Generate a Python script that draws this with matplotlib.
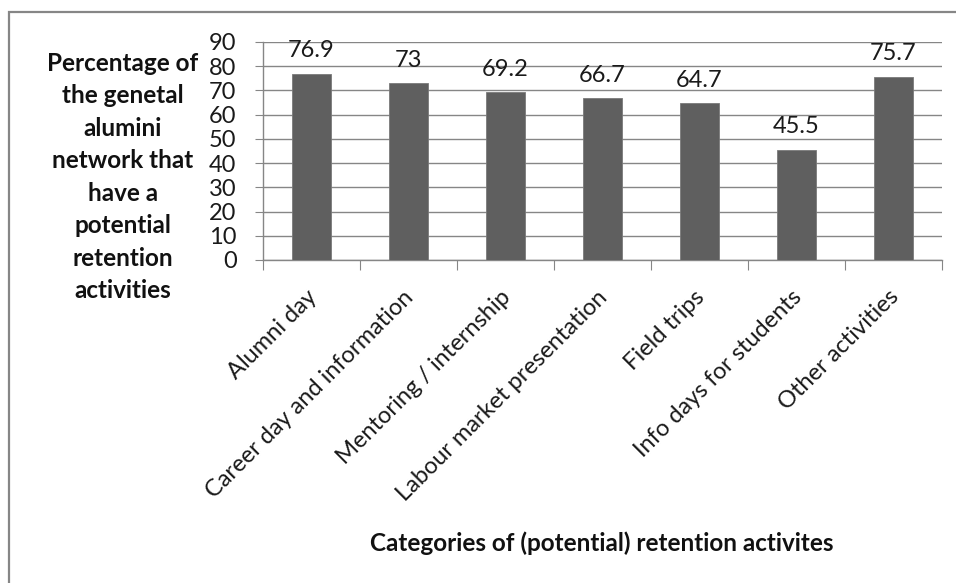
import matplotlib
matplotlib.use("Agg")
import matplotlib.pyplot as plt
from matplotlib.patches import Rectangle
from matplotlib.transforms import ScaledTranslation
import numpy as np

plt.rcParams["font.family"] = ["Lato", "DejaVu Sans"]

# données
categories = ["Alumni day", "Career day and information", "Mentoring / internship",
              "Labour market presentation", "Field trips", "Info days for students",
              "Other activities"]
values = [76.9, 73, 69.2, 66.7, 64.7, 45.5, 75.7]
value_labels = ["76.9", "73", "69.2", "66.7", "64.7", "45.5", "75.7"]
y_ticks = list(range(0, 91, 10))

ylabel = ("Percentage of\nthe genetal\nalumini\nnetwork that\nhave a\npotential\n"
          "retention\nactivities")
xlabel = "Categories of (potential) retention activites"

GRID = "#868686"
BAR = "#5f5f5f"
TXT = "#1a1a1a"

fig = plt.figure(figsize=(9.56, 5.83), dpi=100)
ax = fig.add_axes([263 / 956, 1 - 260 / 583, (942 - 263) / 956, (260 - 42) / 583])

x = np.arange(len(categories))
ax.bar(x, values, width=0.4, color=BAR, edgecolor="#7a7a7a", linewidth=0.6, zorder=3)

for xi, v, lab in zip(x, values, value_labels):
    ax.annotate(lab, (xi, v), xytext=(0, 9), textcoords="offset points",
                ha="center", va="bottom", fontsize=17, color=TXT)

ax.set_xlim(-0.5, len(categories) - 0.5)
ax.set_ylim(0, 90)
ax.set_yticks(y_ticks)
ax.yaxis.grid(True, color=GRID, linewidth=1.0, zorder=0)
ax.tick_params(axis="y", labelsize=17, length=6, color=GRID, pad=13, labelcolor=TXT)

# graduations entre les catégories, étiquettes au centre
ax.set_xticks(np.arange(len(categories) + 1) - 0.5)
ax.set_xticklabels([])
ax.set_xticks(x, minor=True)
ax.set_xticklabels(categories, minor=True, rotation=45, ha="right",
                   rotation_mode="anchor", fontsize=17, color=TXT)
ax.tick_params(axis="x", which="major", length=7, color=GRID)
ax.tick_params(axis="x", which="minor", length=0, pad=19)
shift = ScaledTranslation(-4 / 72, 0, fig.dpi_scale_trans)
for lab in ax.get_xticklabels(minor=True):
    lab.set_transform(lab.get_transform() + shift)

for s in ["top", "right"]:
    ax.spines[s].set_visible(False)
for s in ["left", "bottom"]:
    ax.spines[s].set_color(GRID)
    ax.spines[s].set_linewidth(1.0)

fig.text(123 / 956, 1 - 177 / 583, ylabel, ha="center", va="center",
         fontsize=17.5, fontweight="bold", linespacing=1.5, color="#111111")
fig.text(602 / 956, 1 - 543 / 583, xlabel, ha="center", va="center",
         fontsize=17.5, fontweight="bold", color="#111111")

# cadre du graphique (coupé à droite et en bas)
fig.patches.append(Rectangle((9 / 956, -0.1), 1.2, 1 - 12 / 583 + 0.1,
                             transform=fig.transFigure, fill=False,
                             edgecolor=GRID, linewidth=1.6))

fig.savefig("out.png", dpi=100)
